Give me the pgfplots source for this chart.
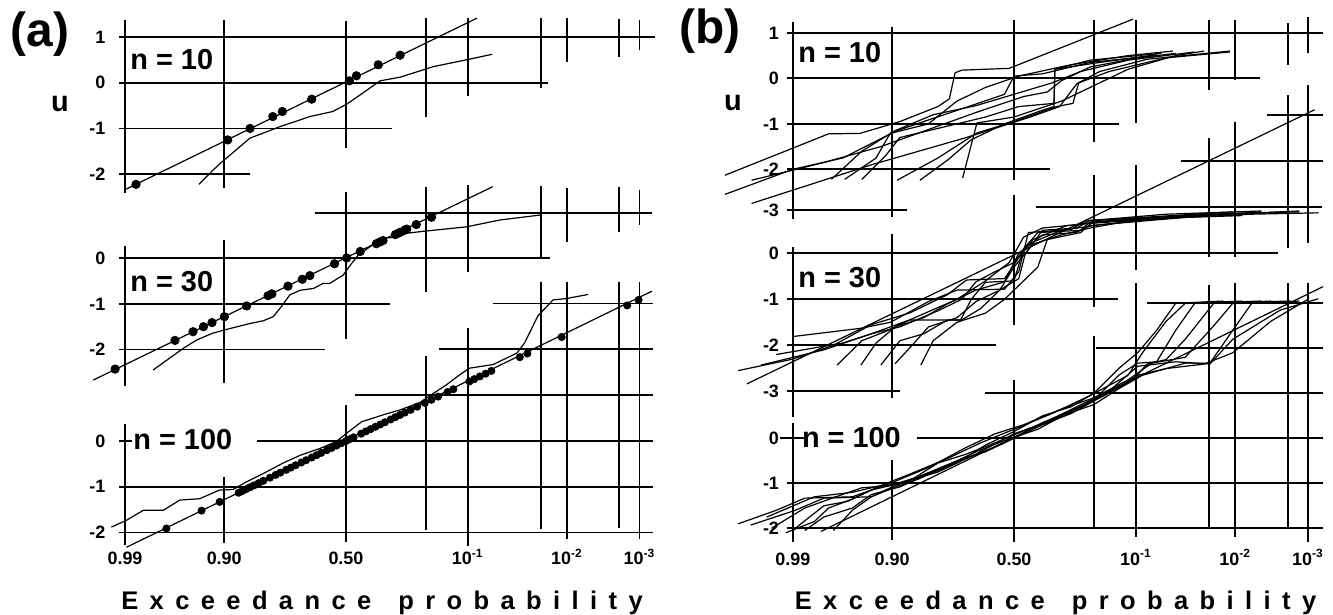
\documentclass[border=0pt]{standalone}
\usepackage{pgfplots}
\pgfplotsset{compat=1.18}
\usepackage{fontspec}
\setmainfont{Liberation Sans}

\newcommand\tickfont{\fontsize{9}{10}\selectfont\bfseries}
\newcommand\nfont{\fontsize{14.5}{16}\selectfont\bfseries}
\newcommand\xlab{{\fontsize{12.8}{14}\selectfont\bfseries\spaceskip=5.7bp
  E x c e e d a n c e\hspace{13.5bp}p r o b a b i l i t y}}

% grid segments: \hl{u}{z1}{z2}, \vl{z}{u1}{u2}
\newcommand\hl[3]{\addplot[gl] coordinates {(#2,#1) (#3,#1)};}
\newcommand\vl[3]{\addplot[gl] coordinates {(#1,#2) (#1,#3)};}

\pgfplotsset{
  panel/.style={clip=false, enlargelimits=false, anchor=south west,
    axis line style={draw=none}, major tick length=0pt,
    xmin=-2.326, xmax=3.09, xtick=\empty,
    yticklabel style={font=\tickfont}},
  pa/.style={panel, x=47.5bp, yticklabel style={xshift=-6.3bp}},
  pb/.style={panel, x=47.55bp, yticklabel style={xshift=-3.4bp}},
  bottom/.style={xtick={-2.326,-1.2816,0,1.2816,2.326,3.09},
    xticklabels={0.99,0.90,0.50,10\textsuperscript{-1},10\textsuperscript{-2},10\textsuperscript{-3}},
    xticklabel style={font=\tickfont, anchor=base, yshift=#1}},
  gl/.style={black, line width=0.9bp, forget plot},
  cv/.style={black, line width=0.6bp, line join=round, forget plot},
  dt/.style={only marks, mark=*, mark size=2.1bp, black, forget plot},
}

\begin{document}
\begin{tikzpicture}
\path[use as bounding box] (0,0) rectangle (666.5bp,307.5bp);

% ================= panel (a) =================
% n = 10
\begin{axis}[pa, at={(62.5bp,211.2bp)}, y=22.9bp, ymin=-2.4, ymax=1.4,
  ytick={1,0,-1,-2}, yticklabels={1,0,-1,-2}]
\hl{1}{-2.39}{3.25} \hl{0}{-2.39}{2.13} \hl{-1}{-2.39}{0.48} \hl{-2}{-2.39}{-1.01}
\vl{-2.326}{1.37}{-2.4} \vl{-1.2816}{1.37}{-2.3} \vl{0}{1.35}{-1.43}
\vl{0.8416}{1.41}{-0.75} \vl{1.2816}{1.41}{-0.3} \vl{2.054}{1.41}{-0.11}
\vl{2.326}{1.41}{0.45} \vl{2.878}{1.39}{0.56} \vl{3.09}{1.37}{0.71}
\addplot[cv] coordinates {(-2.33,-2.34) (1.38,1.41)};
\addplot[cv] coordinates {(-1.547,-2.22) (-1.4,-1.91) (-1.3,-1.72) (-1.01,-1.21)
  (-0.87,-1.1) (-0.695,-0.96) (-0.38,-0.74) (-0.14,-0.63) (0.007,-0.47)
  (0.147,-0.27) (0.36,0.04) (0.57,0.12) (0.92,0.35) (1.27,0.5) (1.54,0.62)};
\addplot[dt] coordinates {(-2.21,-2.22) (-1.245,-1.25) (-1.01,-1.0) (-0.77,-0.74)
  (-0.67,-0.63) (-0.36,-0.36) (0.035,0.04) (0.11,0.15) (0.34,0.39) (0.57,0.6)};
\end{axis}

% n = 30
\begin{axis}[pa, at={(62.5bp,114.51bp)}, y=22.8bp, ymin=-2.8, ymax=1.6,
  ytick={0,-1,-2}, yticklabels={0,-1,-2}]
\hl{1}{-0.33}{3.22} \hl{0}{-2.39}{2.15} \hl{-1}{-2.39}{0.46} \hl{-2}{-2.39}{-0.22}
\vl{-2.326}{0.26}{-2.8} \vl{-1.2816}{0.4}{-2.73} \vl{0}{1.46}{-1.77}
\vl{0.8416}{1.57}{-0.73} \vl{1.2816}{1.6}{-0.29} \vl{2.054}{1.58}{0.03}
\vl{2.326}{1.54}{0.36} \vl{2.878}{1.56}{0.58} \vl{3.09}{1.5}{0.73}
\addplot[cv] coordinates {(-2.66,-2.67) (1.544,1.57)};
\addplot[cv] coordinates {(-2.03,-2.45) (-1.71,-1.97) (-1.57,-1.79) (-1.4,-1.64)
  (-1.22,-1.54) (-1.01,-1.43) (-0.87,-1.37) (-0.765,-1.28) (-0.68,-1.06)
  (-0.59,-0.8) (-0.48,-0.7) (-0.34,-0.66) (-0.24,-0.55) (-0.17,-0.55)
  (-0.03,-0.37) (0.06,-0.11) (0.13,0.07) (0.25,0.25) (0.376,0.44) (0.53,0.46)
  (0.64,0.55) (0.85,0.6) (1.27,0.69) (1.62,0.84) (2.05,0.95)};
\addplot[dt] coordinates {(-2.43,-2.43) (-1.8,-1.8) (-1.61,-1.61) (-1.5,-1.5)
  (-1.41,-1.41) (-1.28,-1.28) (-1.045,-1.045) (-0.82,-0.82) (-0.78,-0.78)
  (-0.61,-0.61) (-0.46,-0.46) (-0.38,-0.38) (-0.12,-0.12) (0.007,0.007)
  (0.15,0.15) (0.32,0.32) (0.36,0.36) (0.39,0.39) (0.52,0.52) (0.55,0.55)
  (0.57,0.57) (0.62,0.62) (0.64,0.64) (0.74,0.74) (0.9,0.9)};
\end{axis}

% n = 100
\begin{axis}[pa, bottom=-9.3bp, at={(62.5bp,34.33bp)}, y=22.9bp, ymin=-2.3, ymax=3.5,
  ytick={0,-1,-2}, yticklabels={0,-1,-2}]
\hl{3}{1.55}{3.23} \hl{2}{0.98}{3.23} \hl{1}{0.1}{3.23} \hl{0}{-0.94}{3.23}
\hl{0}{-2.39}{-2.25} \hl{-1}{-2.39}{3.23} \hl{-2}{-2.39}{3.23}
\vl{-2.326}{0.37}{-2.28} \vl{-1.2816}{-0.78}{-2.22} \vl{0}{0.78}{-2.2}
\vl{0.8416}{1.86}{-1.95} \vl{1.2816}{2.46}{-2.3} \vl{2.054}{3.48}{-1.93}
\vl{2.326}{3.48}{-2.15} \vl{2.878}{3.48}{-1.9} \vl{3.09}{3.48}{-2.15}
\addplot[cv] coordinates {(-2.31,-2.32) (3.22,3.27)};
\addplot[cv] coordinates {(-2.47,-1.88) (-2.31,-1.73) (-2.13,-1.51) (-1.92,-1.51)
  (-1.75,-1.29) (-1.54,-1.26) (-1.33,-1.07) (-1.19,-1.06) (-1.045,-0.89)
  (-0.87,-0.71) (-0.66,-0.48) (-0.48,-0.31) (-0.27,-0.16) (-0.1,-0.01)
  (0.007,0.17) (0.165,0.42) (0.39,0.57) (0.57,0.68) (0.78,0.84) (0.92,1.04)
  (1.06,1.23) (1.2,1.45) (1.3,1.59) (1.55,1.67) (1.66,1.78) (1.8,1.92)
  (1.88,2.14) (2.02,2.73) (2.18,3.08) (2.32,3.11) (2.55,3.2)};
\addplot[dt, mark size=1.8bp] coordinates {(-1.89,-1.91) (-1.52,-1.52) (-1.33,-1.33)
  (-1.13,-1.13) (-1.09,-1.09) (-1.05,-1.05) (-1.01,-1.01) (-0.97,-0.97)
  (-0.92,-0.92) (-0.87,-0.87) (-0.8,-0.8) (-0.74,-0.74) (-0.69,-0.69)
  (-0.63,-0.63) (-0.58,-0.58) (-0.53,-0.53) (-0.47,-0.47) (-0.42,-0.42)
  (-0.36,-0.36) (-0.31,-0.31) (-0.26,-0.26) (-0.2,-0.2) (-0.15,-0.15)
  (-0.1,-0.1) (-0.05,-0.05) (0.0,0.0) (0.04,0.04) (0.08,0.08)
  (0.16,0.16) (0.21,0.21) (0.26,0.26) (0.31,0.31) (0.36,0.36) (0.41,0.41)
  (0.47,0.47) (0.52,0.52) (0.57,0.57) (0.62,0.62) (0.68,0.68) (0.75,0.75)
  (0.83,0.83) (0.9,0.9) (0.97,0.97) (1.07,1.07) (1.13,1.13) (1.3,1.3)
  (1.35,1.35) (1.41,1.41) (1.47,1.47) (1.53,1.53) (1.83,1.83) (1.91,1.91)
  (2.27,2.27) (2.96,2.96) (3.08,3.08)};
\end{axis}

% ================= panel (b) =================
% n = 10
\begin{axis}[pb, at={(396.4bp,197.8bp)}, y=22.75bp, ymin=-3.1, ymax=1.4,
  ytick={1,0,-1,-2,-2.9}, yticklabels={1,0,-1,-2,-3}]
\hl{1}{-2.39}{3.25} \hl{0}{-2.39}{2.59} \hl{-1}{-2.39}{1.1} \hl{-2}{-2.39}{0.38}
\hl{-2.9}{-2.39}{-1.13}
\vl{-2.326}{1.24}{-3.1} \vl{-1.2816}{1.13}{-3.04} \vl{0}{1.28}{-2.24}
\vl{0.8416}{1.28}{-1.39} \vl{1.2816}{1.28}{-0.99} \vl{2.054}{1.28}{-0.26}
\vl{2.326}{1.28}{-0.04} \vl{2.878}{1.21}{0.29} \vl{3.09}{1.35}{0.55}
\addplot[cv] coordinates {(-3.04,-2.13) (-1.95,-1.22) (-1.62,-1.21) (-1.2,-0.95)
  (-0.8,-0.62) (-0.68,-0.45) (-0.62,0.12) (-0.55,0.18) (-0.05,0.22) (1.25,1.3)};
\addplot[cv] coordinates {(-2.76,-2.75) (-1.5,-1.9) (-0.5,-1.3) (0.17,-0.85)
  (0.48,-0.62) (0.66,-0.12) (0.9,0.15) (1.4,0.42) (2.27,0.6)};
\addplot[cv] coordinates {(-2.76,-2.24) (-2.0,-1.85) (-1.4,-1.5) (-1.0,-1.2)
  (-0.4,-0.75) (0.1,-0.4) (0.35,-0.3) (0.5,-0.05) (0.8,0.25) (1.3,0.45) (1.7,0.55)};
\addplot[cv] coordinates {(-1.92,-2.22) (-1.6,-1.6) (-1.25,-1.15) (-0.85,-0.8)
  (-0.4,-0.6) (0.0,-0.35) (0.4,-0.1) (0.7,0.15) (1.2,0.4) (1.9,0.58)};
\addplot[cv] coordinates {(-1.78,-2.22) (-1.45,-1.75) (-1.3,-1.2) (-0.95,-0.95)
  (-0.45,-0.6) (-0.1,-0.35) (0.0,0.05) (0.3,0.1) (0.8,0.35) (1.5,0.5)};
\addplot[cv] coordinates {(-1.6,-2.22) (-1.35,-1.7) (-1.2,-1.3) (-0.7,-1.05)
  (-0.3,-0.85) (0.05,-0.62) (0.42,-0.55) (0.43,0.2) (0.8,0.4) (1.55,0.55)};
\addplot[cv] coordinates {(-1.23,-2.24) (-0.8,-1.75) (-0.39,-1.2) (0.0,-0.95)
  (0.45,-0.62) (0.62,-0.55) (0.68,-0.1) (1.0,0.15) (1.6,0.45) (2.27,0.58)};
\addplot[cv] coordinates {(-0.99,-2.24) (-0.7,-1.8) (-0.45,-1.35) (-0.1,-1.0)
  (0.3,-0.7) (0.42,-0.62) (0.43,0.2) (0.9,0.35) (1.5,0.52)};
\addplot[cv] coordinates {(-0.54,-2.19) (-0.39,-0.98) (0.0,-0.85) (0.5,-0.5)
  (0.9,-0.1) (1.2,0.2) (1.7,0.5) (2.0,0.6)};
\addplot[cv] coordinates {(-3.04,-2.55) (-2.326,-2.0) (-1.8,-1.75) (-1.28,-1.2)
  (-0.9,-1.0) (-0.6,-0.5) (-0.3,-0.2) (0.05,0.05) (0.6,0.3) (1.2,0.5) (1.67,0.6)};
\end{axis}

% n = 30
\begin{axis}[pb, at={(396.4bp,98.05bp)}, y=23bp, ymin=-3.6, ymax=3.7,
  ytick={0,-1,-2,-3}, yticklabels={0,-1,-2,-3}]
\hl{3}{2.66}{3.25} \hl{2}{1.76}{3.25} \hl{1}{0.23}{3.24} \hl{0}{-2.39}{2.78}
\hl{-1}{-2.39}{1.09} \hl{-2}{-2.39}{-0.19} \hl{-3}{-2.39}{-1.2}
\vl{-2.326}{0.14}{-3.55} \vl{-1.2816}{0.43}{-3.15} \vl{0}{1.27}{-1.55}
\vl{0.8416}{1.7}{-1.16} \vl{1.2816}{1.92}{-0.36} \vl{2.054}{2.5}{-0.07}
\vl{2.326}{2.86}{-0.07} \vl{2.878}{3.44}{0.11} \vl{3.09}{3.66}{0.22}
\addplot[cv] coordinates {(-2.81,-2.84) (3.16,3.12)};
\addplot[cv] coordinates {(-2.66,-2.43) (-2.0,-2.1) (-1.5,-1.75) (-1.1,-1.45)
  (-0.6,-1.0) (-0.3,-0.6) (-0.05,-0.2) (0.1,0.35) (0.3,0.55) (0.8,0.65)
  (1.5,0.75) (2.5,0.85) (3.2,0.88)};
\addplot[cv] coordinates {(-2.326,-1.81) (-1.61,-1.63) (-1.3,-1.5) (-0.9,-1.05)
  (-0.6,-0.8) (-0.1,-0.78) (0.05,-0.4) (0.15,0.45) (0.6,0.52) (0.75,0.7)
  (1.5,0.8) (2.3,0.9)};
\addplot[cv] coordinates {(-1.86,-2.43) (-1.6,-1.9) (-1.35,-1.7) (-1.1,-1.45)
  (-0.56,-1.45) (-0.45,-1.0) (-0.3,-0.63) (0.0,-0.6) (0.1,0.1) (0.25,0.45)
  (0.7,0.5) (0.8,0.68) (1.8,0.82) (2.9,0.9)};
\addplot[cv] coordinates {(-1.61,-2.43) (-1.45,-1.95) (-1.25,-1.6) (-0.95,-1.4)
  (-0.7,-1.1) (-0.4,-0.8) (-0.1,-0.62) (0.05,0.0) (0.3,0.4) (0.65,0.45)
  (0.8,0.6) (2.0,0.85) (3.0,0.9)};
\addplot[cv] coordinates {(-1.25,-2.4) (-1.05,-1.95) (-0.9,-1.6) (-0.6,-1.4)
  (-0.4,-1.05) (-0.15,-0.8) (0.0,-0.3) (0.2,0.2) (0.5,0.4) (0.8,0.55)
  (1.2,0.7) (2.2,0.85)};
\addplot[cv] coordinates {(-0.98,-2.43) (-0.85,-1.9) (-0.6,-1.5) (-0.3,-1.3)
  (-0.1,-1.0) (0.05,-0.7) (0.25,-0.3) (0.35,0.3) (0.7,0.45) (0.85,0.72)
  (1.6,0.85) (2.6,0.92)};
\addplot[cv] coordinates {(-2.9,-2.55) (-2.326,-2.3) (-1.9,-2.0) (-1.5,-1.55)
  (-1.1,-1.3) (-0.7,-0.9) (-0.5,-0.58) (-0.1,-0.55) (0.05,-0.1) (0.2,0.3)
  (0.55,0.6) (1.0,0.7) (1.8,0.8) (2.6,0.9)};
\addplot[cv] coordinates {(-2.5,-2.2) (-1.8,-1.95) (-1.5,-1.75) (-1.2,-1.6)
  (-0.8,-1.25) (-0.55,-1.0) (-0.4,-0.62) (-0.2,-0.4) (0.0,-0.2) (0.15,0.2)
  (0.5,0.5) (0.9,0.62) (1.8,0.78) (2.4,0.82)};
\addplot[cv] coordinates {(-1.4,-2.43) (-1.2,-1.9) (-0.95,-1.75) (-0.7,-1.45)
  (-0.55,-1.45) (-0.35,-1.2) (-0.15,-0.8) (0.05,-0.55) (0.12,0.0) (0.3,0.5)
  (0.66,0.55) (0.8,0.72) (1.5,0.78) (3.0,0.92)};
\end{axis}

% n = 100
\begin{axis}[pb, bottom=-11.6bp, at={(396.4bp,36.6bp)}, y=22.5bp, ymin=-2.3, ymax=3.5,
  ytick={0,-1,-2}, yticklabels={0,-1,-2}]
\hl{3}{1.4}{3.25} \hl{2}{0.86}{3.25} \hl{1}{-0.3}{3.25} \hl{0}{-1.02}{3.25}
\hl{0}{-2.46}{-2.2} \hl{-1}{-2.39}{3.25} \hl{-2}{-2.39}{3.25}
\vl{-2.326}{0.33}{-2.3} \vl{-1.2816}{-0.48}{-2.26} \vl{0}{1.3}{-2.3}
\vl{0.8416}{2.27}{-2.0} \vl{1.2816}{3.45}{-2.2} \vl{2.054}{3.4}{-2.0}
\vl{2.326}{3.45}{-2.2} \vl{2.878}{3.45}{-2.0} \vl{3.09}{3.45}{-2.3}
\addplot[cv] coordinates {(-2.03,-2.07) (3.25,3.37)};
\addplot[cv] coordinates {(-2.77,-1.93) (-2.3,-1.6) (-2.0,-1.33) (-1.5,-1.3)
  (-1.27,-1.07) (-0.8,-0.7) (-0.4,-0.35) (0.0,0.1) (0.4,0.4) (0.84,0.85)
  (1.1,1.4) (1.3,1.67) (1.5,1.7) (1.7,2.4) (1.9,3.0) (2.6,3.05)};
\addplot[cv] coordinates {(-2.55,-2.0) (-2.2,-1.55) (-1.9,-1.32) (-1.6,-1.1)
  (-1.3,-1.05) (-1.0,-0.85) (-0.6,-0.5) (-0.3,-0.3) (0.0,0.0) (0.3,0.3)
  (0.6,0.55) (0.9,0.9) (1.25,1.3) (1.4,1.65) (1.6,1.75) (1.8,2.2) (2.1,3.0) (2.9,3.05)};
\addplot[cv] coordinates {(-2.4,-2.1) (-2.1,-1.85) (-1.95,-1.55) (-1.7,-1.35)
  (-1.45,-1.1) (-1.1,-0.95) (-0.8,-0.55) (-0.5,-0.35) (-0.2,-0.1) (0.2,0.25)
  (0.5,0.5) (0.84,0.75) (1.1,1.1) (1.35,1.4) (1.8,1.67) (2.06,1.67) (2.3,2.4)
  (2.5,3.0) (3.0,3.05)};
\addplot[cv] coordinates {(-2.2,-2.05) (-2.0,-1.75) (-1.7,-1.55) (-1.5,-1.25)
  (-1.2,-1.08) (-0.9,-0.8) (-0.6,-0.55) (-0.3,-0.15) (0.0,0.15) (0.3,0.5)
  (0.6,0.7) (0.84,1.0) (1.1,1.55) (1.3,1.9) (1.5,2.4) (1.7,3.0) (2.2,3.05)};
\addplot[cv] coordinates {(-2.9,-1.9) (-2.5,-1.6) (-2.2,-1.33) (-1.7,-1.3)
  (-1.3,-1.0) (-0.9,-0.65) (-0.5,-0.2) (-0.2,0.1) (0.1,0.3) (0.5,0.65)
  (0.84,0.9) (1.2,1.3) (1.45,1.67) (1.8,1.8) (2.1,2.5) (2.3,3.0) (2.7,3.05)};
\addplot[cv] coordinates {(-1.9,-2.05) (-1.7,-1.6) (-1.5,-1.3) (-1.27,-1.1)
  (-1.0,-0.9) (-0.7,-0.6) (-0.4,-0.3) (-0.1,-0.05) (0.25,0.2) (0.6,0.6)
  (0.95,0.95) (1.3,1.4) (1.6,1.55) (2.0,1.65) (2.3,1.9) (2.7,2.6) (3.1,3.1)};
\addplot[cv] coordinates {(-2.6,-1.75) (-2.1,-1.3) (-1.7,-1.2) (-1.4,-1.05)
  (-1.1,-0.8) (-0.7,-0.45) (-0.35,-0.1) (0.0,0.2) (0.4,0.55) (0.8,0.95)
  (1.2,1.4) (1.35,1.9) (1.6,2.6) (1.8,3.0) (2.4,3.05)};
\addplot[cv] coordinates {(-2.3,-2.0) (-2.0,-1.5) (-1.75,-1.4) (-1.5,-1.15)
  (-1.2,-1.0) (-0.8,-0.75) (-0.5,-0.45) (-0.1,-0.1) (0.3,0.35) (0.7,0.7)
  (1.0,1.05) (1.3,1.6) (1.7,1.7) (2.06,1.65) (2.3,2.2) (2.8,2.85) (3.2,3.1)};
\end{axis}

% ================= texts =================
\node[font=\fontsize{24}{26}\selectfont\bfseries] at (20bp,290.5bp) {(a)};
\node[font=\fontsize{24}{26}\selectfont\bfseries] at (355bp,292bp) {(b)};
\node[font=\fontsize{14.5}{16}\selectfont\bfseries] at (30bp,255.5bp) {u};
\node[font=\fontsize{14.5}{16}\selectfont\bfseries] at (366.5bp,256bp) {u};
\node[font=\nfont, anchor=west, inner sep=0pt] at (65bp,277.5bp) {n = 10};
\node[font=\nfont, anchor=west, inner sep=0pt] at (65bp,166.5bp) {n = 30};
\node[font=\nfont, anchor=west, inner sep=0pt] at (66.5bp,87.5bp) {n = 100};
\node[font=\nfont, anchor=west, inner sep=0pt] at (399bp,281bp) {n = 10};
\node[font=\nfont, anchor=west, inner sep=0pt] at (399bp,168.5bp) {n = 30};
\node[font=\nfont, anchor=west, inner sep=0pt] at (400.8bp,88.5bp) {n = 100};
\node[anchor=base, inner sep=0pt] at (191bp,3bp) {\xlab};
\node[anchor=base, inner sep=0pt] at (527.75bp,3bp) {\xlab};
\end{tikzpicture}
\end{document}
